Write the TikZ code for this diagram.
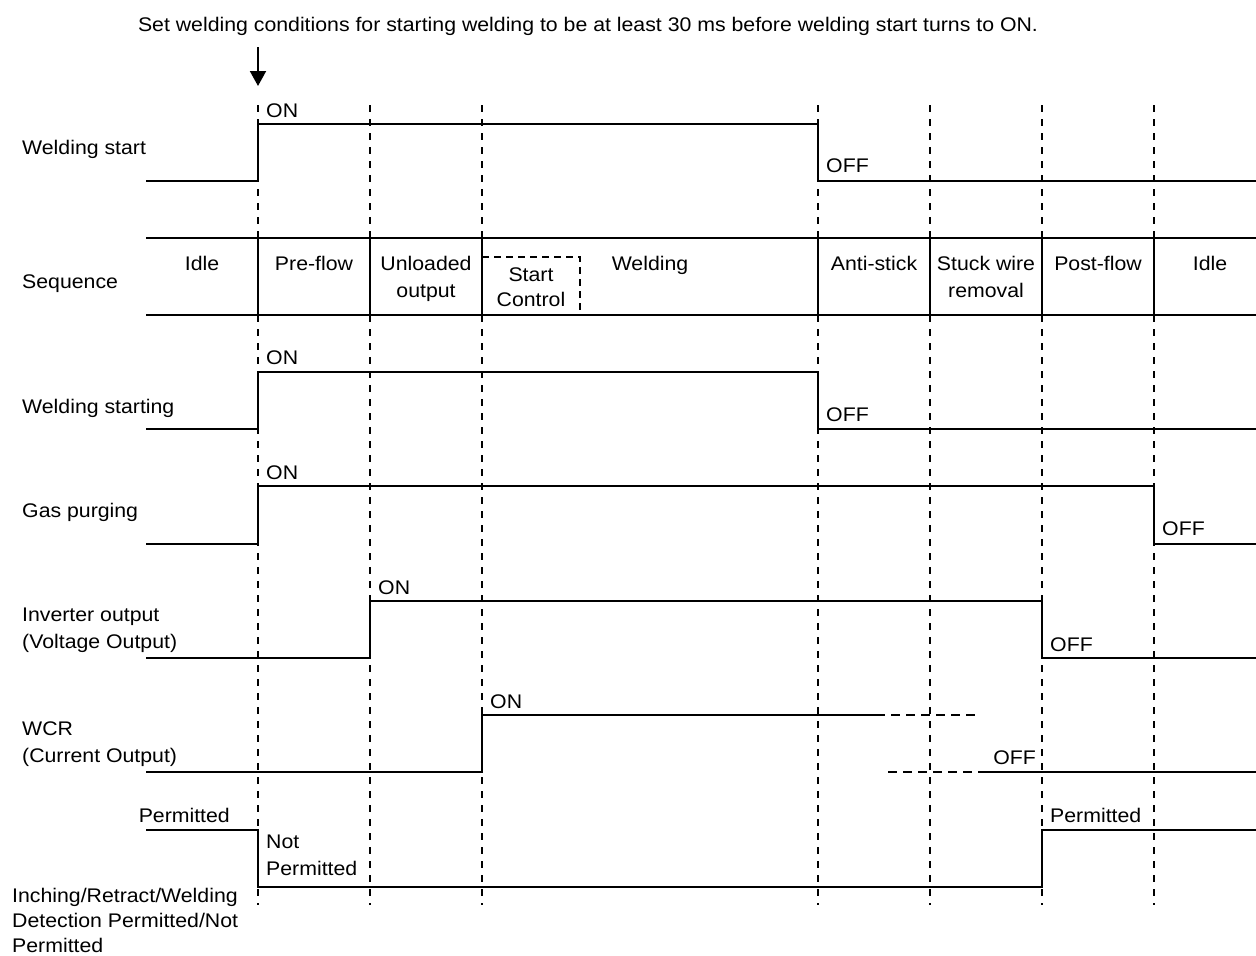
\documentclass[tikz,border=0pt]{standalone}
\usepackage{fontspec}
\setmainfont[FakeStretch=1.08]{Liberation Sans}
\usetikzlibrary{arrows.meta}
\begin{document}
\begin{tikzpicture}[x=1pt,y=-1pt,
  sig/.style={line width=2pt, line join=miter},
  gridline/.style={line width=1.8pt, dash pattern=on 7pt off 7pt},
  dsig/.style={line width=2pt, dash pattern=on 9pt off 6pt},
  lbl/.style={inner sep=0pt, font=\fontsize{19.7}{27}\selectfont},
  lw/.style={lbl, anchor=base west, align=left},
  le/.style={lbl, anchor=base east, align=right},
  lc/.style={lbl, anchor=base, align=center}]
\useasboundingbox (0,0) rectangle (1256,956);

% top note and arrow
\node[lc] (note) at (588,31) {Set welding conditions for starting welding to be at least 30 ms before welding start turns to ON.};
\coordinate (arrS) at (258,47);
\coordinate (arrE) at (258,86);
\draw[line width=2pt, -{Triangle[width=16pt,length=15pt]}] (arrS) -- (arrE);

% vertical dashed grid
\foreach \x in {258,370,482,818,930,1042,1154}{
  \draw[gridline] (\x,105) -- (\x,905);
}

% Welding start
\draw[sig] (146,181) -- (258,181) -- (258,124) -- (818,124) -- (818,181) -- (1256,181);
% Sequence band
\draw[sig] (146,238) -- (1256,238);
\draw[sig] (146,315) -- (1256,315);
\foreach \x in {258,370,482,818,930,1042,1154}{
  \draw[sig] (\x,238) -- (\x,315);
}
\draw[line width=1.8pt, dash pattern=on 7pt off 5pt] (482,257) -- (580,257) -- (580,315);
% Welding starting
\draw[sig] (146,429) -- (258,429) -- (258,372) -- (818,372) -- (818,429) -- (1256,429);
% Gas purging
\draw[sig] (146,544) -- (258,544) -- (258,486) -- (1154,486) -- (1154,544) -- (1256,544);
% Inverter output
\draw[sig] (146,658) -- (370,658) -- (370,601) -- (1042,601) -- (1042,658) -- (1256,658);
% WCR
\draw[sig] (146,772) -- (482,772) -- (482,715) -- (876,715);
\draw[dsig] (876,715) -- (980,715);
\draw[dsig] (888,772) -- (987,772);
\draw[sig] (987,772) -- (1256,772);
% Permitted
\draw[sig] (146,830) -- (258,830) -- (258,887) -- (1042,887) -- (1042,830) -- (1256,830);

% left labels
\node[lw] (l1) at (22,154) {Welding start};
\node[lw] (l2) at (22,288) {Sequence};
\node[lw] (l3) at (22,413) {Welding starting};
\node[lw] (l4) at (22,517) {Gas purging};
\node[lw] (l5) at (22,648) {Inverter output\\(Voltage Output)};
\node[lw] (l6) at (22,762) {WCR\\(Current Output)};
\node[le] (l7) at (230,822) {Permitted};
\node[lw, font=\fontsize{19.7}{25}\selectfont] (l8) at (12,952) {Inching/Retract/Welding\\Detection Permitted/Not\\Permitted};

% sequence labels
\node[lc] (s1) at (202,270) {Idle};
\node[lc] (s2) at (314,270) {Pre-flow};
\node[lc] (s3) at (426,297) {Unloaded\\output};
\node[lc, font=\fontsize{19.7}{25}\selectfont] (s4) at (531,306) {Start\\Control};
\node[lc] (s5) at (650,270) {Welding};
\node[lc] (s6) at (874,270) {Anti-stick};
\node[lc] (s7) at (986,297) {Stuck wire\\removal};
\node[lc] (s8) at (1098,270) {Post-flow};
\node[lc] (s9) at (1210,270) {Idle};

% state labels
\node[lw] (on1) at (266,117) {ON};
\node[lw] (on2) at (266,364) {ON};
\node[lw] (on3) at (266,479) {ON};
\node[lw] (on4) at (378,594) {ON};
\node[lw] (on5) at (490,708) {ON};
\node[lw] (off1) at (826,172) {OFF};
\node[lw] (off2) at (826,421) {OFF};
\node[lw] (off3) at (1162,535) {OFF};
\node[lw] (off4) at (1050,651) {OFF};
\node[le] (off5) at (1036,764) {OFF};
\node[lw] (p2) at (1050,822) {Permitted};
\node[lw] (np) at (266,875) {Not\\Permitted};
\end{tikzpicture}
\end{document}
